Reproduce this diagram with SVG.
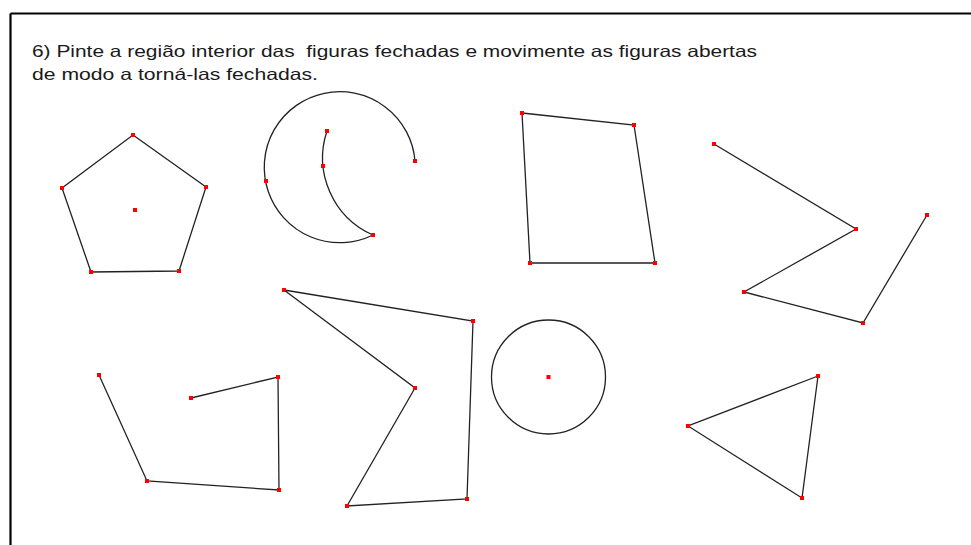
<svg xmlns="http://www.w3.org/2000/svg" width="971" height="545" viewBox="0 0 971 545">
<style>
.ln{fill:none;stroke:#222;stroke-width:1.3;stroke-linejoin:miter}
.pt{fill:#ff0000}
.tx{font-family:"Liberation Sans",Arial,sans-serif;font-size:16.5px;fill:#1a1a1a;white-space:pre}
.bd{stroke:#000;stroke-width:2.2;fill:none}
</style>
<defs>
<rect id="d" class="pt" x="-2" y="-2" width="4" height="4"/>
</defs>
<rect width="971" height="545" fill="#fff"/>
<g id="border">
<line class="bd" x1="10.5" y1="13.5" x2="971" y2="13.5"/>
<line class="bd" x1="10.5" y1="13.5" x2="10.5" y2="545"/>
</g>
<g id="title">
<text class="tx" x="32" y="57" textLength="725" lengthAdjust="spacingAndGlyphs" xml:space="preserve">6) Pinte a região interior das  figuras fechadas e movimente as figuras abertas</text>
<text class="tx" x="32" y="80" textLength="286" lengthAdjust="spacingAndGlyphs">de modo a torná-las fechadas.</text>
</g>
<g id="pentagon">
<polygon class="ln" points="133,135 206,187 179,271 91,272 62,188"/>
<use href="#d" x="133" y="135"/><use href="#d" x="206" y="187"/><use href="#d" x="179" y="271"/><use href="#d" x="91" y="272"/><use href="#d" x="62" y="188"/><use href="#d" x="135" y="210"/>
</g>
<g id="moon">
<path class="ln" d="M415,161 A75.5,75.5 0 1 0 373,235 A84.4,84.4 0 0 1 327,131"/>
<use href="#d" x="415" y="161"/><use href="#d" x="266" y="181"/><use href="#d" x="373" y="235"/><use href="#d" x="323" y="166"/><use href="#d" x="327" y="131"/>
</g>
<g id="quad">
<polygon class="ln" points="522,113 634,125 655,263 530,263"/>
<use href="#d" x="522" y="113"/><use href="#d" x="634" y="125"/><use href="#d" x="655" y="263"/><use href="#d" x="530" y="263"/>
</g>
<g id="zigzag">
<polyline class="ln" points="714,144 856,229 744,292 863,323 927,215"/>
<use href="#d" x="714" y="144"/><use href="#d" x="856" y="229"/><use href="#d" x="744" y="292"/><use href="#d" x="863" y="323"/><use href="#d" x="927" y="215"/>
</g>
<g id="open-left">
<polyline class="ln" points="99,375 147,481 279,490 278,377 191,398"/>
<use href="#d" x="99" y="375"/><use href="#d" x="147" y="481"/><use href="#d" x="279" y="490"/><use href="#d" x="278" y="377"/><use href="#d" x="191" y="398"/>
</g>
<g id="concave">
<polygon class="ln" points="284,290 473,321 467,499 347,506 415,388"/>
<use href="#d" x="284" y="290"/><use href="#d" x="473" y="321"/><use href="#d" x="467" y="499"/><use href="#d" x="347" y="506"/><use href="#d" x="415" y="388"/>
</g>
<g id="circle">
<circle class="ln" cx="548.5" cy="377" r="57"/>
<use href="#d" x="548.5" y="377"/>
</g>
<g id="triangle">
<polygon class="ln" points="818,376 688,426 802,498"/>
<use href="#d" x="818" y="376"/><use href="#d" x="688" y="426"/><use href="#d" x="802" y="498"/>
</g>
</svg>
